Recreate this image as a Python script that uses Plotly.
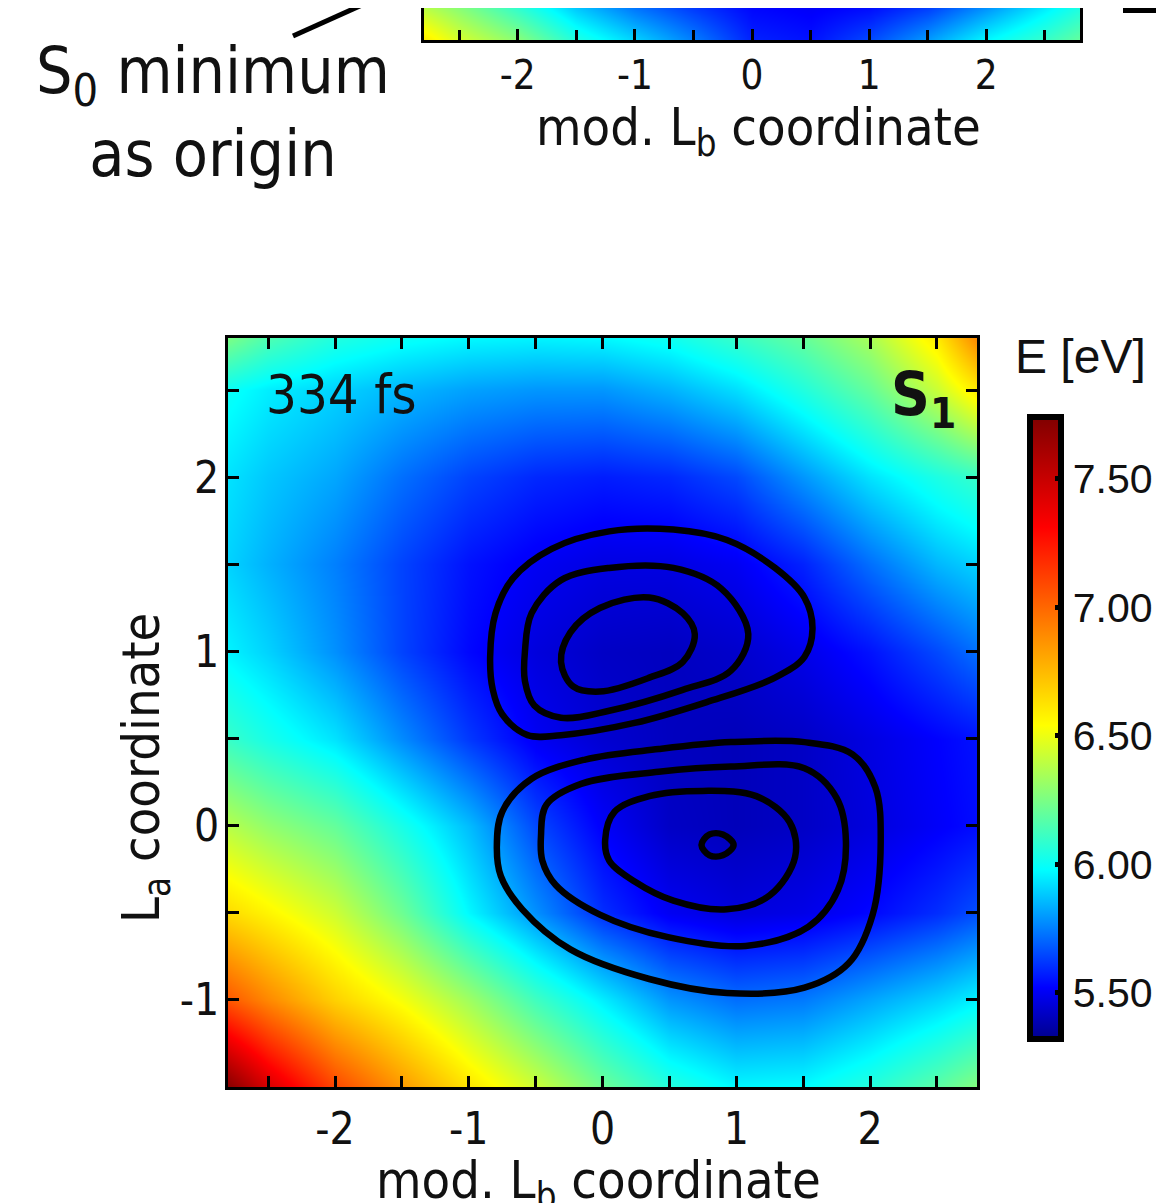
import plotly.graph_objects as go

# window is 1166x1203; the page body has an 8 px margin, so the figure is 8 px smaller
W, H = 1158, 1195
OFF = 8

# ---------------- data ----------------
grid_x = [-2.8, -2.5, -2.0, -1.5, -1.0, -0.5, 0.0, 0.5, 1.0, 1.5, 2.0, 2.5, 2.8]
grid_y = [-1.5, -1.0, -0.5, 0.0, 0.5, 1.0, 1.5, 2.0, 2.5, 2.8]
energy_s1 = [
    [7.72, 7.45, 7.10, 6.85, 6.62, 6.43, 6.22, 6.06, 5.97, 5.98, 6.06, 6.18, 6.27],
    [7.05, 6.90, 6.68, 6.52, 6.33, 6.12, 5.95, 5.79, 5.72, 5.74, 5.82, 5.90, 5.96],
    [6.65, 6.57, 6.43, 6.22, 5.97, 5.78, 5.60, 5.50, 5.46, 5.48, 5.53, 5.60, 5.66],
    [6.38, 6.30, 6.20, 6.03, 5.86, 5.65, 5.51, 5.42, 5.40, 5.42, 5.46, 5.51, 5.54],
    [6.10, 6.03, 5.93, 5.77, 5.62, 5.50, 5.44, 5.41, 5.40, 5.42, 5.47, 5.52, 5.55],
    [5.96, 5.90, 5.78, 5.64, 5.53, 5.46, 5.42, 5.41, 5.43, 5.48, 5.55, 5.65, 5.72],
    [5.90, 5.84, 5.75, 5.64, 5.55, 5.50, 5.47, 5.47, 5.50, 5.58, 5.72, 5.85, 5.90],
    [5.93, 5.88, 5.82, 5.72, 5.64, 5.59, 5.57, 5.59, 5.65, 5.79, 5.93, 6.04, 6.10],
    [6.00, 5.95, 5.90, 5.85, 5.81, 5.79, 5.79, 5.84, 5.92, 6.05, 6.20, 6.42, 6.60],
    [6.25, 6.15, 6.05, 6.00, 5.97, 5.96, 5.97, 6.01, 6.10, 6.20, 6.35, 6.60, 6.90],
]

# strip of the panel above (only its lower edge is visible)
strip_y = [-1.5, -1.2]
energy_strip = [
    [6.60, 6.45, 6.28, 6.05, 5.90, 5.75, 5.58, 5.55, 5.65, 5.80, 5.97, 6.10, 6.20],
    [6.35, 6.25, 6.05, 5.85, 5.70, 5.60, 5.52, 5.50, 5.52, 5.60, 5.75, 5.92, 6.02],
]

# wave-packet density contours (closed rings)
upper_outer_x = [-0.84, -0.80, -0.67, -0.38, 0.05, 0.53, 0.93, 1.29, 1.51, 1.57, 1.51, 1.29, 0.78, 0.24, -0.31, -0.56, -0.75, -0.82]
upper_outer_y = [0.97, 1.22, 1.42, 1.59, 1.69, 1.70, 1.64, 1.48, 1.31, 1.13, 0.97, 0.85, 0.71, 0.59, 0.52, 0.52, 0.64, 0.78]
upper_mid_x = [-0.58, -0.53, -0.31, 0.05, 0.53, 0.89, 1.09, 0.96, 0.60, 0.05, -0.31, -0.51, -0.58]
upper_mid_y = [1.00, 1.22, 1.41, 1.48, 1.48, 1.36, 1.10, 0.89, 0.78, 0.66, 0.62, 0.69, 0.83]
upper_in_x = [-0.31, -0.24, -0.02, 0.35, 0.60, 0.69, 0.60, 0.35, -0.02, -0.22]
upper_in_y = [0.94, 1.11, 1.25, 1.31, 1.22, 1.10, 0.94, 0.85, 0.77, 0.80]
lower_outer_x = [-0.79, -0.75, -0.53, -0.13, 0.42, 0.96, 1.51, 1.87, 2.04, 2.08, 2.02, 1.84, 1.51, 0.93, 0.35, -0.24, -0.60, -0.76]
lower_outer_y = [-0.12, 0.08, 0.27, 0.38, 0.44, 0.48, 0.48, 0.41, 0.22, -0.09, -0.51, -0.79, -0.93, -0.96, -0.88, -0.71, -0.48, -0.29]
lower_mid_x = [-0.46, -0.42, -0.16, 0.42, 0.96, 1.51, 1.75, 1.82, 1.76, 1.54, 1.07, 0.49, -0.02, -0.35, -0.45]
lower_mid_y = [-0.06, 0.12, 0.24, 0.31, 0.34, 0.33, 0.16, -0.09, -0.37, -0.58, -0.69, -0.64, -0.51, -0.34, -0.20]
lower_in_x = [0.02, 0.09, 0.35, 0.75, 1.15, 1.40, 1.44, 1.25, 0.93, 0.53, 0.24, 0.05]
lower_in_y = [-0.08, 0.08, 0.17, 0.20, 0.17, 0.02, -0.18, -0.40, -0.48, -0.43, -0.32, -0.20]
lower_core_x = [0.74, 0.80, 0.90, 0.98, 0.90, 0.80]
lower_core_y = [-0.11, -0.05, -0.05, -0.11, -0.17, -0.17]

x_ticks = [-2, -1, 0, 1, 2]
y_ticks = [-1, 0, 1, 2]
cb_ticks = [5.5, 6.0, 6.5, 7.0, 7.5]
cb_labels = ["5.50", "6.00", "6.50", "7.00", "7.50"]

# ---------------- style ----------------
E_MIN, E_MAX = 5.32, 7.74
def pos(v):
    return (v - E_MIN) / (E_MAX - E_MIN)

jet = [
    [0.0, "rgb(0,0,140)"],
    [pos(5.52), "rgb(0,0,255)"],
    [pos(5.98), "rgb(0,255,255)"],
    [pos(6.54), "rgb(255,255,0)"],
    [pos(7.31), "rgb(255,0,0)"],
    [1.0, "rgb(128,0,0)"],
]

NARROW = "Liberation Sans Narrow, DejaVu Sans Condensed, Liberation Sans, sans-serif"
ARIAL = "Liberation Sans, Arial, sans-serif"

def px(xp):
    return (xp - OFF) / W

def py(yp):
    return 1 - (yp - OFF) / H

fig = go.Figure()

fig.add_trace(go.Heatmap(
    x=grid_x, y=grid_y, z=energy_s1, zsmooth="best",
    colorscale=jet, zmin=E_MIN, zmax=E_MAX, xaxis="x", yaxis="y",
    colorbar=dict(
        x=px(1030), xanchor="left", xpad=0,
        y=py(728), yanchor="middle", ypad=0,
        lenmode="pixels", len=622, thickness=31,
        outlinewidth=6, outlinecolor="black",
        tickmode="array", tickvals=cb_ticks, ticktext=cb_labels,
        ticks="inside", ticklen=9, tickwidth=5, tickcolor="black",
        tickfont=dict(family=ARIAL, size=41, color="#111"),
    ),
))

fig.add_trace(go.Heatmap(
    x=grid_x, y=strip_y, z=energy_strip, zsmooth="best",
    colorscale=jet, zmin=E_MIN, zmax=E_MAX, showscale=False,
    xaxis="x2", yaxis="y2",
))

rings = [
    (upper_outer_x, upper_outer_y), (upper_mid_x, upper_mid_y), (upper_in_x, upper_in_y),
    (lower_outer_x, lower_outer_y), (lower_mid_x, lower_mid_y), (lower_in_x, lower_in_y),
    (lower_core_x, lower_core_y),
]
for rx, ry in rings:
    fig.add_trace(go.Scatter(
        x=rx + rx[:1], y=ry + ry[:1], mode="lines",
        line=dict(color="black", width=6.5, shape="spline", smoothing=1.0),
        showlegend=False, hoverinfo="skip", xaxis="x", yaxis="y",
    ))

axis_common = dict(
    showgrid=False, zeroline=False, showline=True, linewidth=3, linecolor="black",
    ticks="inside", ticklen=11, tickwidth=3, tickcolor="black", automargin=False,
)

fig.update_layout(
    width=W, height=H, margin=dict(l=0, r=0, t=0, b=0, autoexpand=False),
    paper_bgcolor="white", plot_bgcolor="white", showlegend=False,
    xaxis=dict(
        domain=[px(228), px(977)], range=[-2.8, 2.8], anchor="y",
        tickmode="array", tickvals=x_ticks, ticktext=["-2", "-1", "0", "1", "2"],
        mirror="ticks",
        minor=dict(dtick=0.5, tick0=0, ticks="inside", ticklen=11, tickwidth=3, tickcolor="black"),
        tickfont=dict(family=NARROW, size=44, color="#111"), ticklabelstandoff=1,
        **axis_common,
    ),
    yaxis=dict(
        domain=[py(1087), py(338)], range=[-1.5, 2.8], anchor="x",
        tickmode="array", tickvals=y_ticks, ticktext=["-1", "0", "1", "2"],
        mirror="ticks",
        minor=dict(dtick=0.5, tick0=0, ticks="inside", ticklen=11, tickwidth=3, tickcolor="black"),
        tickfont=dict(family=NARROW, size=44, color="#111"), ticklabelstandoff=-3,
        **axis_common,
    ),
    xaxis2=dict(
        domain=[px(424), px(1080)], range=[-2.8, 2.8], anchor="y2",
        tickmode="array", tickvals=x_ticks, ticktext=["-2", "-1", "0", "1", "2"],
        mirror=False,
        minor=dict(dtick=0.5, tick0=0, ticks="inside", ticklen=10, tickwidth=3, tickcolor="black"),
        tickfont=dict(family=NARROW, size=40, color="#111"), ticklabelstandoff=-2,
        **axis_common,
    ),
    yaxis2=dict(
        domain=[py(40), 1.0], range=[-1.5, -1.25], anchor="x2",
        showticklabels=False, mirror=True, automargin=False,
        showgrid=False, zeroline=False, showline=True, linewidth=3, linecolor="black",
        ticks="",
    ),
)

ann = []
ann.append(dict(text="mod. L<sub>b</sub> coordinate", x=px(758), y=py(95), xanchor="center", yanchor="top",
                font=dict(family=NARROW, size=52, color="#111")))
ann.append(dict(text="mod. L<sub>b</sub> coordinate", x=px(598), y=py(1148), xanchor="center", yanchor="top",
                font=dict(family=NARROW, size=52, color="#111")))
ann.append(dict(text="L<sub>a</sub> coordinate", x=px(145), y=py(768), xanchor="center", yanchor="middle",
                textangle=-90, font=dict(family=NARROW, size=52, color="#111")))
ann.append(dict(text="334 fs", x=px(264), y=py(394), xanchor="left", yanchor="middle",
                font=dict(family=NARROW, size=54, color="#111")))
ann.append(dict(text="<b>S<sub>1</sub></b>", x=px(958), y=py(398), xanchor="right", yanchor="middle",
                font=dict(family=NARROW, size=60, color="#111")))
ann.append(dict(text="E [eV]", x=px(1080), y=py(357), xanchor="center", yanchor="middle",
                font=dict(family=ARIAL, size=48, color="#111")))
ann.append(dict(text="S<sub>0</sub> minimum<br>as origin", x=px(213), y=py(112), xanchor="center", yanchor="middle",
                font=dict(family=NARROW, size=64, color="#111")))
for a in ann:
    a.update(xref="paper", yref="paper", showarrow=False)
fig.update_layout(annotations=ann)

fig.update_layout(shapes=[
    dict(type="line", xref="paper", yref="paper", x0=px(293), y0=py(36), x1=px(382), y1=py(-4),
         line=dict(color="black", width=5)),
    dict(type="rect", xref="paper", yref="paper", x0=px(1123), y0=py(13), x1=px(1156), y1=py(-5),
         line=dict(width=0), fillcolor="black"),
])

fig.write_html("out.html")
